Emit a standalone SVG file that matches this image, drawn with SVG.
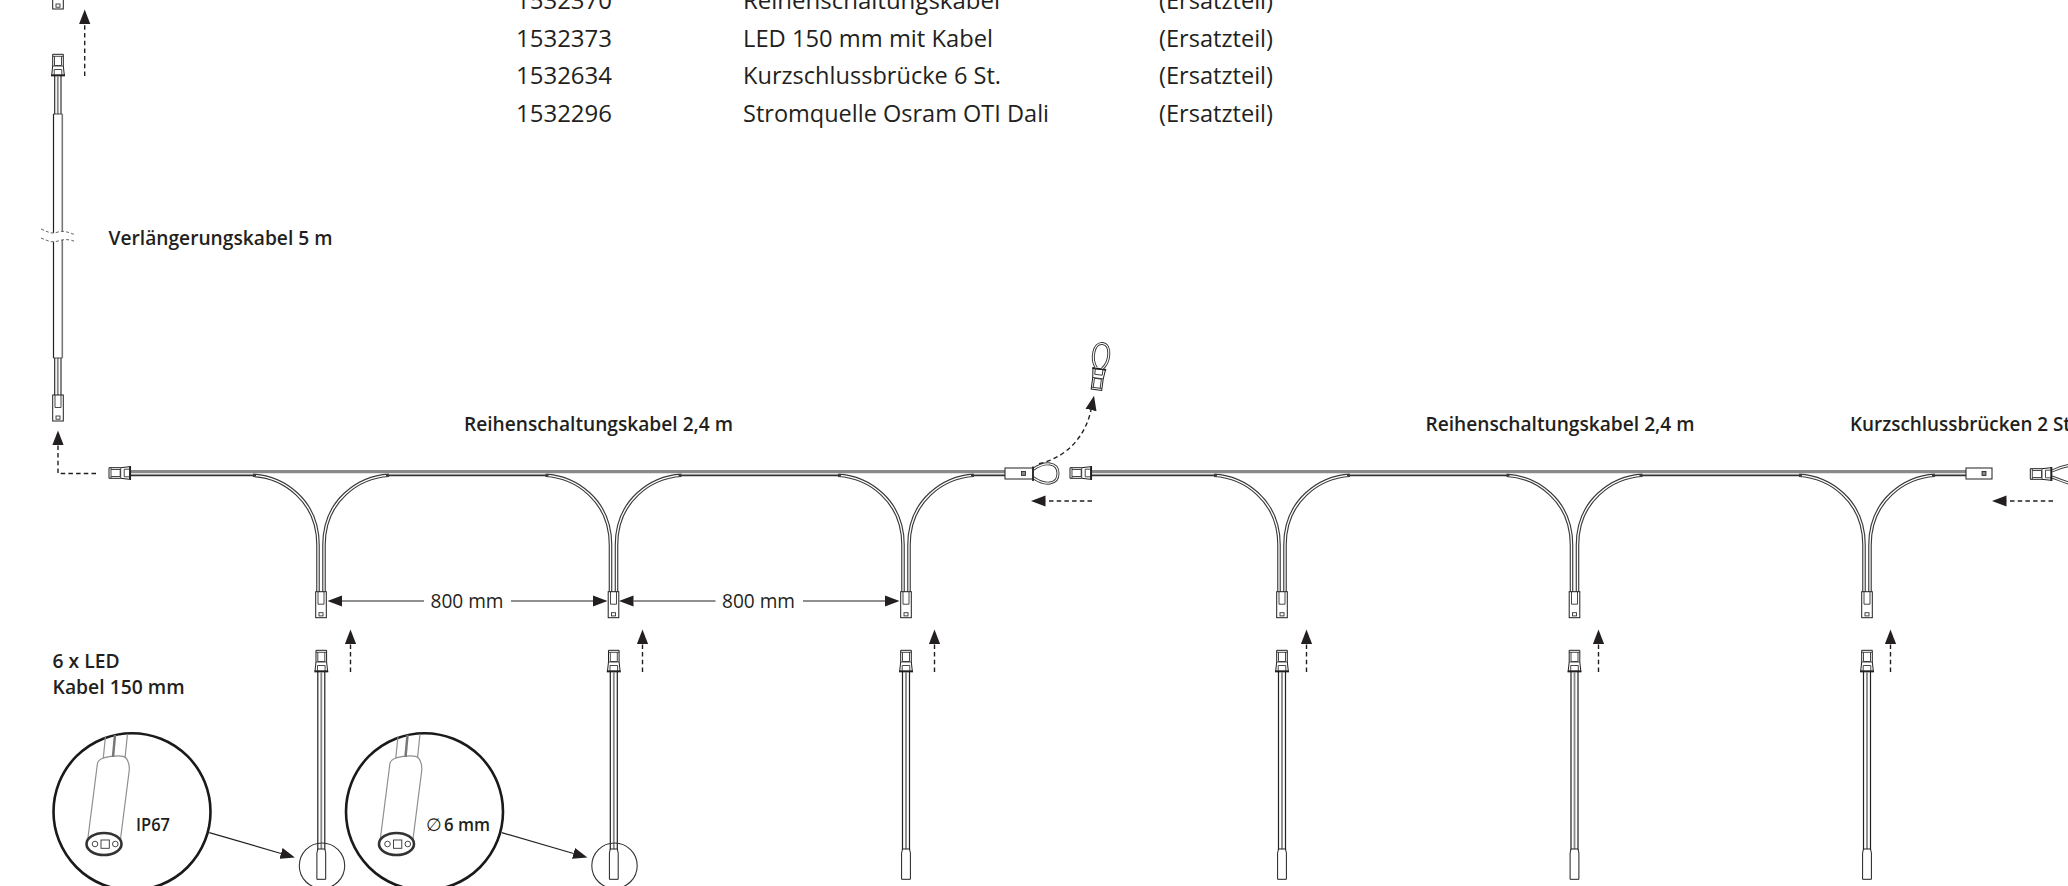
<svg xmlns="http://www.w3.org/2000/svg" width="2068" height="886" viewBox="0 0 2068 886">
<style>
text{font-family:"Open Sans","Noto Sans","Liberation Sans",sans-serif;fill:#231f20}
.t{font-size:24px}
.b{font-size:20px;font-weight:600}
.d{font-size:20px}
.s{font-size:18px;font-weight:600}
.ln{fill:none;stroke:#333;stroke-width:.9}
.th{fill:none;stroke:#231f20;stroke-width:1.7}
.gr{fill:none;stroke:#8f8f8f;stroke-width:1.2}
.dash{fill:none;stroke:#231f20;stroke-width:1.4;stroke-dasharray:4.5 3.2}
.arr{fill:none;stroke:#6a6a6a;stroke-width:1.6}
.lead{fill:none;stroke:#231f20;stroke-width:1.2}
.wo{fill:none;stroke:#3a3a3a;stroke-width:3.6}
.wi{fill:none;stroke:#fff;stroke-width:1.3}
.box{fill:#fff;stroke:#231f20;stroke-width:1}
.bd{fill:none;stroke:#8a8a8a;stroke-width:3.3}
.bl{fill:none;stroke:#333;stroke-width:1.7}
</style>
<defs>
<marker id="ah" markerUnits="userSpaceOnUse" markerWidth="15" markerHeight="12" refX="0" refY="6" orient="auto"><path d="M0 .4L14.5 6L0 11.6Z" fill="#231f20"/></marker>
<g id="plug">
<path class="box" d="M-6.3 -1L-5.3 -10V-21.7H5.3V-10L6.3 -1Z"/>
<path class="ln" d="M-5.3 -19.7H5.3M-3.5 -19.7V-10.5H3.500V-19.7M-5.3 -10H5.3M-3.8 -1V-6.5H3.8V-1"/>
<path class="th" d="M-7 -.5H7"/>
</g>
<g id="socket">
<rect class="box" x="-5.3" y="0" width="10.6" height="26"/>
<path class="ln" d="M-3 0V12.500H3V0"/>
<rect class="ln" x="-2" y="21" width="4" height="3.2"/>
</g>
<path id="bl" d="M-68 475.300C-38 477 -3 500 -3 545V592"/>
<path id="br" d="M68 475.300C38 477 3 500 3 545V592"/>
<g id="drop">
<use href="#bl" class="wo"/><use href="#bl" class="wi"/>
<use href="#br" class="wo"/><use href="#br" class="wi"/>
<use href="#socket" y="591.7"/>
</g>
<g id="led">
<use href="#plug" y="672"/>
<path class="ln" style="stroke:#231f20;stroke-width:1.2" d="M-3.5 672V850M3.5 672V850"/>
<path fill="none" stroke="#888" stroke-width="1.8" d="M0 672V852"/>
<path class="box" d="M-3.5 849L-4.4 853V879.3H4.4V853L3.5 849Z"/>
</g>
<g id="inset">
<circle cx="132" cy="811.7" r="78.5" fill="#fff" stroke="#1a1a1a" stroke-width="2.6"/>
<path class="gr" d="M97.5 763L87.3 843M129.3 770L120 843M97.5 763C99 756 122 754 126 758C128.5 761 129.5 765 129.3 770"/>
<path class="gr" d="M103.3 758L105.5 736M125 758L127.5 734"/>
<path fill="none" stroke="#777" stroke-width="2.5" d="M113 757L115 735"/>
<ellipse cx="104" cy="844" rx="17.5" ry="11" fill="#fff" stroke="#333" stroke-width="2.6"/>
<circle class="ln" cx="95" cy="844" r="2.8"/><circle class="ln" cx="115.3" cy="844" r="2.8"/>
<rect class="ln" x="101" y="840" width="8.3" height="8.3"/>
</g>
</defs>
<rect width="2068" height="886" fill="#fff"/>

<g id="parts-table" class="t">
<text x="516" y="9.3" textLength="96" lengthAdjust="spacingAndGlyphs">1532370</text>
<text x="743" y="9.3" textLength="257" lengthAdjust="spacingAndGlyphs">Reihenschaltungskabel</text>
<text x="1159" y="9.3" textLength="114" lengthAdjust="spacingAndGlyphs">(Ersatzteil)</text>
<text x="516" y="46.7" textLength="96" lengthAdjust="spacingAndGlyphs">1532373</text>
<text x="743" y="46.7" textLength="250" lengthAdjust="spacingAndGlyphs">LED 150 mm mit Kabel</text>
<text x="1159" y="46.7" textLength="114" lengthAdjust="spacingAndGlyphs">(Ersatzteil)</text>
<text x="516" y="84.1" textLength="96" lengthAdjust="spacingAndGlyphs">1532634</text>
<text x="743" y="84.1" textLength="258" lengthAdjust="spacingAndGlyphs">Kurzschlussbrücke 6 St.</text>
<text x="1159" y="84.1" textLength="114" lengthAdjust="spacingAndGlyphs">(Ersatzteil)</text>
<text x="516" y="121.5" textLength="96" lengthAdjust="spacingAndGlyphs">1532296</text>
<text x="743" y="121.5" textLength="306" lengthAdjust="spacingAndGlyphs">Stromquelle Osram OTI Dali</text>
<text x="1159" y="121.5" textLength="114" lengthAdjust="spacingAndGlyphs">(Ersatzteil)</text>
</g>

<g id="extension-cable">
<use href="#socket" x="58" y="-17"/>
<use href="#plug" x="58" y="76"/>
<path class="ln" style="stroke:#231f20;stroke-width:1.1" d="M54.7 76V114M61 76V114M54.7 358V395M61 358V395"/>
<path fill="none" stroke="#888" stroke-width="1.8" d="M57.8 76V114M57.8 358V395"/>
<path class="ln" d="M53.500 114H62.300M53.500 358H62.300"/>
<path d="M53.500 114V358" fill="none" stroke="#231f20" stroke-width="1.2"/>
<path d="M62.300 114V358" fill="none" stroke="#777" stroke-width="1.6"/>
<path d="M41 229C50 233 52 234 58 232S70 233 76 235V242C70 239 64 239 58 241S48 241 41 238Z" fill="#fff"/>
<path d="M41 229C50 233 52 234 58 232S70 233 76 235M41 238C48 241 52 243 58 241S70 239 76 242" fill="none" stroke="#555" stroke-width=".9" stroke-dasharray="3 2.2"/>
<use href="#socket" x="58" y="395"/>
</g>

<g id="cable-1">
<use href="#drop" x="321"/><use href="#drop" x="613.5"/><use href="#drop" x="906"/>
<path class="bd" d="M130 471.700H1005"/>
<path class="bl" d="M130 475.300H256M386 475.300H548.500M678.500 475.300H841M971 475.300H1005"/>
<use href="#plug" transform="translate(130.7 473) rotate(-90)"/>
<path class="wo" style="stroke-width:3" d="M1033 469.500C1045 461 1058 462 1058 473.500C1058 485 1045 486 1033 477.500"/>
<path class="wi" style="stroke-width:1.1" d="M1033 469.500C1045 461 1058 462 1058 473.500C1058 485 1045 486 1033 477.500"/>
<rect class="box" x="1005" y="468" width="28" height="11"/>
<rect x="1021.500" y="471.500" width="4" height="4" fill="#888" stroke="#231f20" stroke-width=".8"/>
<path class="th" d="M1033 466.500V481"/>
</g>

<g id="cable-2">
<use href="#drop" x="1282"/><use href="#drop" x="1574.500"/><use href="#drop" x="1867"/>
<path class="bd" d="M1091 471.700H1966"/>
<path class="bl" d="M1091 475.300H1217M1347 475.300H1509.500M1639.500 475.300H1802M1932 475.300H1966"/>
<use href="#plug" transform="translate(1091.7 473) rotate(-90)"/>
<rect class="box" x="1966" y="468" width="26" height="11"/>
<rect x="1982" y="471.500" width="4" height="4" fill="#888" stroke="#231f20" stroke-width=".8"/>
</g>

<g id="loop-bridge" transform="translate(1099.3 368.3) rotate(187.6)">
<use href="#plug"/>
<path class="wo" style="stroke-width:3" d="M-3 0C-10 8 -9 25 0 25C9 25 10 8 3 0"/>
<path class="wi" style="stroke-width:1.1" d="M-3 0C-10 8 -9 25 0 25C9 25 10 8 3 0"/>
</g>

<g id="short-bridge">
<path class="wo" style="stroke-width:3" d="M2052 471C2058 468 2064 466 2072 465M2052 477C2058 479 2064 482 2072 484"/>
<path class="wi" style="stroke-width:1.1" d="M2052 471C2058 468 2064 466 2072 465M2052 477C2058 479 2064 482 2072 484"/>
<use href="#plug" transform="translate(2052 474) rotate(-90)"/>
</g>

<g id="leds">
<use id="led-1" href="#led" x="321.3"/>
<use id="led-2" href="#led" x="613.8"/>
<use id="led-3" href="#led" x="906"/>
<use id="led-4" href="#led" x="1282"/>
<use id="led-5" href="#led" x="1574.500"/>
<use id="led-6" href="#led" x="1867"/>
<circle class="ln" style="stroke-width:1.1" cx="322" cy="865.7" r="22.7"/>
<circle class="ln" style="stroke-width:1.1" cx="614.500" cy="865.7" r="22.7"/>
</g>

<g id="detail-ip67"><use href="#inset"/></g>
<g id="detail-diameter"><use href="#inset" x="292.500"/></g>

<g id="connectors">
<path class="dash" d="M84.700 76V24" marker-end="url(#ah)"/>
<path class="dash" d="M96 473.500H58V445" marker-end="url(#ah)"/>
<path class="dash" d="M1039 463.700C1065 458 1085 438 1091 410" marker-end="url(#ah)"/>
<path class="dash" d="M1092 501H1045.500" marker-end="url(#ah)"/>
<path class="dash" d="M2053 501H2006.500" marker-end="url(#ah)"/>
<path class="dash" d="M350.500 672V644" marker-end="url(#ah)"/>
<path class="dash" d="M642.500 672V644" marker-end="url(#ah)"/>
<path class="dash" d="M934.500 672V644" marker-end="url(#ah)"/>
<path class="dash" d="M1306.500 672V644" marker-end="url(#ah)"/>
<path class="dash" d="M1598.500 672V644" marker-end="url(#ah)"/>
<path class="dash" d="M1890.500 672V644" marker-end="url(#ah)"/>
<path class="arr" d="M424 601H342" marker-end="url(#ah)"/>
<path class="arr" d="M511 601H593" marker-end="url(#ah)"/>
<path class="arr" d="M715.500 601H633.500" marker-end="url(#ah)"/>
<path class="arr" d="M803 601H885" marker-end="url(#ah)"/>
<path class="lead" d="M209.300 832.700L281 853.500" marker-end="url(#ah)"/>
<path class="lead" d="M501.800 832.700L573.500 853.500" marker-end="url(#ah)"/>
</g>

<g id="labels">
<text class="b" x="108.500" y="245" textLength="224" lengthAdjust="spacingAndGlyphs">Verlängerungskabel 5 m</text>
<text class="b" x="464" y="431" textLength="269" lengthAdjust="spacingAndGlyphs">Reihenschaltungskabel 2,4 m</text>
<text class="b" x="1425.500" y="431" textLength="269" lengthAdjust="spacingAndGlyphs">Reihenschaltungskabel 2,4 m</text>
<text class="b" x="1850" y="431" textLength="226" lengthAdjust="spacingAndGlyphs">Kurzschlussbrücken 2 St.</text>
<text class="b" x="52.600" y="667.500" textLength="67" lengthAdjust="spacingAndGlyphs">6 x LED</text>
<text class="b" x="52.600" y="693.700" textLength="132" lengthAdjust="spacingAndGlyphs">Kabel 150 mm</text>
<text class="d" x="430.500" y="607.700" textLength="73" lengthAdjust="spacingAndGlyphs">800 mm</text>
<text class="d" x="722" y="607.700" textLength="73" lengthAdjust="spacingAndGlyphs">800 mm</text>
<text class="s" x="136" y="831" textLength="34" lengthAdjust="spacingAndGlyphs">IP67</text>
<text x="426" y="831" style="font-size:18px">∅</text>
<text class="s" x="444" y="831" textLength="46" lengthAdjust="spacingAndGlyphs">6 mm</text>
</g>
</svg>
